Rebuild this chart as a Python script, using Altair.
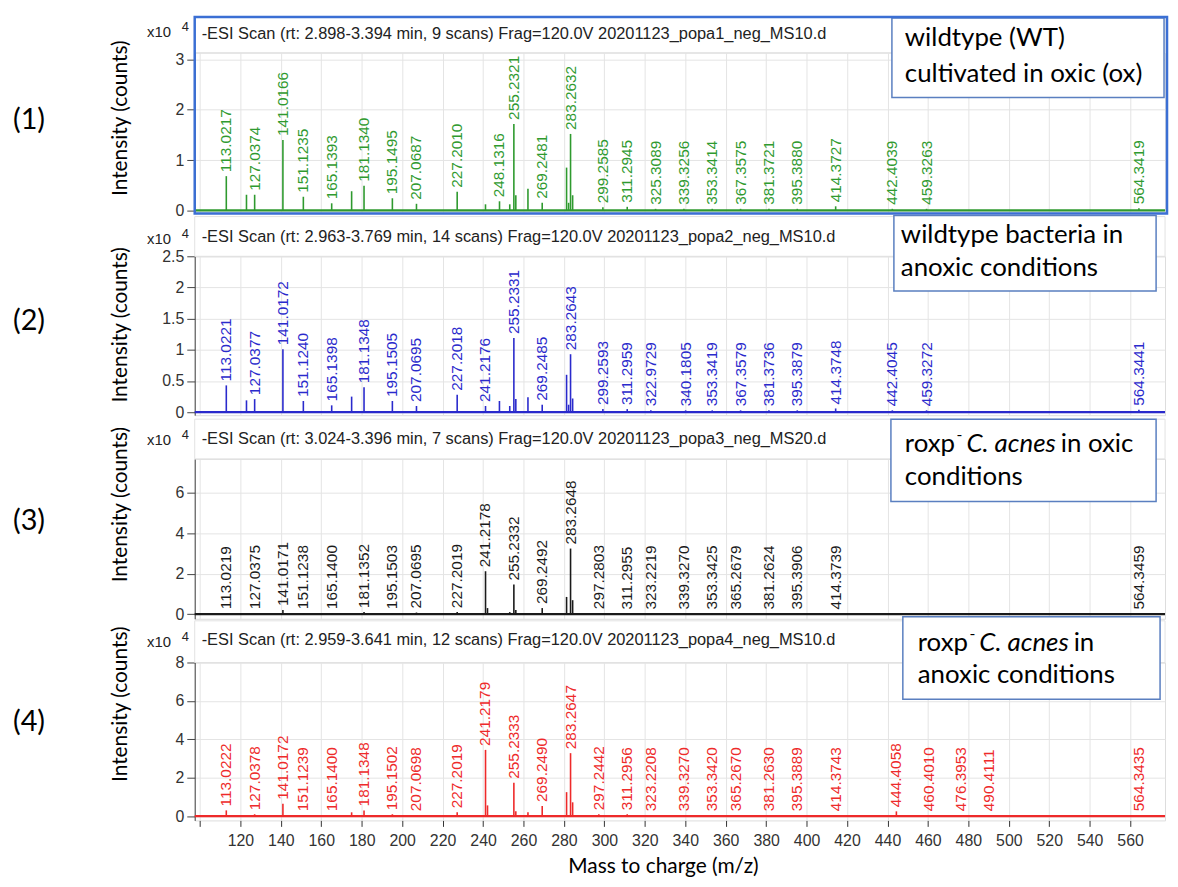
import altair as alt
import pandas as pd

# ---------------- data ----------------
X_TICKS = list(range(100, 561, 20))

# panel 1 : wildtype, oxic (green)
P1_LABELS = ["113.0217", "127.0374", "141.0166", "151.1235", "165.1393", "181.1340", "195.1495",
             "207.0687", "227.2010", "248.1316", "255.2321", "269.2481", "283.2632", "299.2585",
             "311.2945", "325.3089", "339.3256", "353.3414", "367.3575", "381.3721", "395.3880",
             "414.3727", "442.4039", "459.3263", "564.3419"]
P1_LABEL_INT = [0.68, 0.31, 1.40, 0.27, 0.14, 0.49, 0.24, 0.13, 0.37, 0.18, 1.72, 0.15, 1.52, 0.06,
                0.07, 0.03, 0.03, 0.03, 0.03, 0.03, 0.03, 0.08, 0.03, 0.03, 0.04]
P1_OTHER_MZ = [123.0, 175.0, 241.2, 253.2, 256.2, 262.2, 281.3, 282.3, 284.3]
P1_OTHER_INT = [0.31, 0.38, 0.12, 0.12, 0.30, 0.43, 0.85, 0.15, 0.30]

# panel 2 : wildtype, anoxic (blue)
P2_LABELS = ["113.0221", "127.0377", "141.0172", "151.1240", "165.1398", "181.1348", "195.1505",
             "207.0695", "227.2018", "241.2176", "255.2331", "269.2485", "283.2643", "299.2593",
             "311.2959", "322.9729", "340.1805", "353.3419", "367.3579", "381.3736", "395.3879",
             "414.3748", "442.4045", "459.3272", "564.3441"]
P2_LABEL_INT = [0.43, 0.21, 1.01, 0.18, 0.11, 0.40, 0.18, 0.10, 0.28, 0.10, 1.19, 0.12, 0.93, 0.05,
                0.05, 0.03, 0.03, 0.03, 0.03, 0.03, 0.03, 0.06, 0.03, 0.03, 0.04]
P2_OTHER_MZ = [123.0, 175.0, 248.1, 253.2, 256.2, 262.2, 281.3, 282.3, 284.3]
P2_OTHER_INT = [0.19, 0.25, 0.18, 0.10, 0.21, 0.24, 0.60, 0.12, 0.22]

# panel 3 : roxp- C. acnes, oxic (black)
P3_LABELS = ["113.0219", "127.0375", "141.0171", "151.1238", "165.1400", "181.1352", "195.1503",
             "207.0695", "227.2019", "241.2178", "255.2332", "269.2492", "283.2648", "297.2803",
             "311.2955", "323.2219", "339.3270", "353.3425", "365.2679", "381.2624", "395.3906",
             "414.3739", "564.3459"]
P3_LABEL_INT = [0.05, 0.05, 0.20, 0.05, 0.05, 0.10, 0.05, 0.08, 0.10, 2.12, 1.46, 0.30, 3.24, 0.05,
                0.03, 0.03, 0.03, 0.03, 0.03, 0.03, 0.03, 0.03, 0.03]
P3_OTHER_MZ = [242.2, 253.2, 256.2, 281.3, 284.3]
P3_OTHER_INT = [0.30, 0.10, 0.20, 0.85, 0.69]

# panel 4 : roxp- C. acnes, anoxic (red)
P4_LABELS = ["113.0222", "127.0378", "141.0172", "151.1239", "165.1400", "181.1348", "195.1502",
             "207.0698", "227.2019", "241.2179", "255.2333", "269.2490", "283.2647", "297.2442",
             "311.2956", "323.2208", "339.3270", "353.3420", "365.2670", "381.2630", "395.3889",
             "414.3743", "444.4058", "460.4010", "476.3953", "490.4111", "564.3435"]
P4_LABEL_INT = [0.30, 0.10, 0.65, 0.05, 0.05, 0.30, 0.10, 0.05, 0.20, 3.45, 1.74, 0.53, 3.28, 0.10,
                0.10, 0.05, 0.05, 0.05, 0.05, 0.05, 0.05, 0.05, 0.25, 0.05, 0.05, 0.05, 0.05]
P4_OTHER_MZ = [175.0, 242.2, 256.2, 262.2, 281.3, 284.3]
P4_OTHER_INT = [0.20, 0.56, 0.25, 0.20, 1.25, 0.72]

HEADERS = [
    "-ESI Scan (rt: 2.898-3.394 min, 9 scans) Frag=120.0V 20201123_popa1_neg_MS10.d",
    "-ESI Scan (rt: 2.963-3.769 min, 14 scans) Frag=120.0V 20201123_popa2_neg_MS10.d",
    "-ESI Scan (rt: 3.024-3.396 min, 7 scans) Frag=120.0V 20201123_popa3_neg_MS20.d",
    "-ESI Scan (rt: 2.959-3.641 min, 12 scans) Frag=120.0V 20201123_popa4_neg_MS10.d",
]
PANEL_TAGS = ["(1)", "(2)", "(3)", "(4)"]
Y_TICKS = [[0, 1, 2, 3], [0, 0.5, 1, 1.5, 2, 2.5], [0, 2, 4, 6], [0, 2, 4, 6, 8]]
Y_DOMAINS = [[-0.045, 3.136], [-0.048, 2.5], [-0.23, 7.67], [-0.222, 8.0]]

# ---------------- layout / style ----------------
W = 977
X_MIN = 97.4
X_MAX = X_MIN + W / 2.036
HEIGHTS = [161, 160, 161, 159]
COLORS = ["#2f9a2f", "#2a2acc", "#1a1a1a", "#ee2a2a"]
BOX_BLUE = "#5a7fc0"
ONE = pd.DataFrame({"k": [0]})
ARIAL = "Liberation Sans"
CAL = "Lato"
BOX_FS = 26


def txt(text, x, y, size, font=CAL, align="left", color="black", style="normal", angle=0):
    return alt.Chart(ONE).mark_text(
        text=text, font=font, fontSize=size, align=align, baseline="middle",
        color=color, fontStyle=style, angle=angle
    ).encode(x=alt.value(x), y=alt.value(y))


def rect(x1, x2, y1, y2, stroke, sw=1.5, fill="white"):
    return alt.Chart(ONE).mark_rect(fill=fill, stroke=stroke, strokeWidth=sw).encode(
        x=alt.value(x1), x2=alt.value(x2), y=alt.value(y1), y2=alt.value(y2))


def panel(i, labels, lab_int, other_mz, other_int):
    color = COLORS[i]
    h = HEIGHTS[i]
    last = i == 3
    xs = alt.Scale(domain=[X_MIN, X_MAX], nice=False, zero=False)
    ys = alt.Scale(domain=Y_DOMAINS[i], nice=False, zero=False)
    if last:
        xaxis = alt.Axis(values=X_TICKS, labelExpr="datum.value == 100 ? '' : datum.label",
                         tickSize=6, tickColor="#333", labelPadding=6, labelFontSize=16,
                         labelFont=ARIAL, labelColor="#333", domain=False, grid=True,
                         gridColor="#e4e4e4", title=None)
    else:
        xaxis = alt.Axis(values=X_TICKS, labels=False, ticks=False, domain=False, grid=True,
                         gridColor="#e4e4e4", title=None)
    yaxis = alt.Axis(values=Y_TICKS[i], format="~g", tickSize=8, tickColor="#444",
                     domainColor="#444", labelPadding=3, labelFontSize=16, labelFont=ARIAL,
                     labelColor="#333", grid=True, gridColor="#e4e4e4", title=None)

    lab_df = pd.DataFrame({"mz": [float(s) for s in labels], "h": lab_int, "label": labels})
    peak_df = pd.DataFrame({"mz": [float(s) for s in labels] + other_mz, "h": lab_int + other_int})
    base_df = pd.DataFrame({"mz": [X_MIN, X_MAX], "h": [0, 0]})

    X = alt.X("mz:Q", scale=xs, axis=xaxis)
    Y = alt.Y("h:Q", scale=ys, axis=yaxis)

    layers = []
    head_top = -36 if i == 0 else (-42 if last else -40)
    layers.append(rect(0, W, head_top, 0, "#e2e2e2", 1, "transparent"))
    layers.append(alt.Chart(base_df).mark_line(color=color, strokeWidth=2.2).encode(x=X, y=Y))
    layers.append(alt.Chart(peak_df).mark_rule(color=color, strokeWidth=1.6).encode(
        x=X, y=Y, y2=alt.datum(0)))
    layers.append(alt.Chart(lab_df).mark_text(
        angle=270, align="left", baseline="middle", dx=4, font=ARIAL, fontSize=15.5, color=color
    ).encode(x=X, y=Y, text="label:N"))

    # header and exponent
    hy = [-19, -19, -20, -23][i]
    layers.append(txt(HEADERS[i], 7, hy, 16.5, font=ARIAL, color="#222"))
    ey = [-21, -17, -19, -21][i]
    layers.append(txt("x10", -48, ey, 15, font=ARIAL, color="#222"))
    layers.append(txt("4", -13, ey - 5, 13, font=ARIAL, color="#222"))

    # y title and panel tag
    ty = [66, 69, 46, 42][i]
    layers.append(txt("Intensity (counts)", -74, ty, 21, align="center", angle=270))
    gy = [68, 65, 63, 60][i]
    layers.append(txt(PANEL_TAGS[i], -183, gy, 29))

    # annotation boxes
    if i == 0:
        layers.append(rect(702, 976, -35, 45, BOX_BLUE))
        layers.append(txt("wildtype (WT)", 715, -15, BOX_FS))
        layers.append(txt("cultivated in oxic (ox)", 715, 22, BOX_FS))
    elif i == 1:
        layers.append(rect(704, 968, -41, 35, BOX_BLUE))
        layers.append(txt("wildtype bacteria in", 711, -21, BOX_FS))
        layers.append(txt("anoxic conditions", 711, 12, BOX_FS))
    elif i == 2:
        bx = 715
        layers.append(rect(701, 968, -40, 43, BOX_BLUE))
        layers.append(txt("roxp", bx, -15, BOX_FS))
        layers.append(txt("-", bx + 52, -24, 16))
        layers.append(txt("C. acnes", bx + 62, -15, BOX_FS, style="italic"))
        layers.append(txt("in oxic", bx + 157, -15, BOX_FS))
        layers.append(txt("conditions", bx, 18, BOX_FS))
    else:
        bx = 728
        layers.append(rect(713, 972, -46, 37, BOX_BLUE))
        layers.append(txt("roxp", bx, -20, BOX_FS))
        layers.append(txt("-", bx + 52, -29, 16))
        layers.append(txt("C. acnes", bx + 62, -20, BOX_FS, style="italic"))
        layers.append(txt("in", bx + 157, -20, BOX_FS))
        layers.append(txt("anoxic conditions", bx, 13, BOX_FS))
        layers.append(txt("Mass to charge (m/z)", 472, 206, 21, align="center"))

    if i == 0:
        layers.append(rect(0, W + 2, -36, h + 1, "#3b6fd4", 2.5, "transparent"))

    return alt.layer(*layers).properties(width=W, height=h)


panels = [
    panel(0, P1_LABELS, P1_LABEL_INT, P1_OTHER_MZ, P1_OTHER_INT),
    panel(1, P2_LABELS, P2_LABEL_INT, P2_OTHER_MZ, P2_OTHER_INT),
    panel(2, P3_LABELS, P3_LABEL_INT, P3_OTHER_MZ, P3_OTHER_INT),
    panel(3, P4_LABELS, P4_LABEL_INT, P4_OTHER_MZ, P4_OTHER_INT),
]

chart = alt.vconcat(*panels, spacing=44, bounds="flush").properties(
    padding={"left": 4, "top": 4, "right": 0, "bottom": 0}
).configure_view(strokeWidth=0).configure(background="white")

chart.save("out.html", embed_options={"renderer": "svg", "actions": False})
